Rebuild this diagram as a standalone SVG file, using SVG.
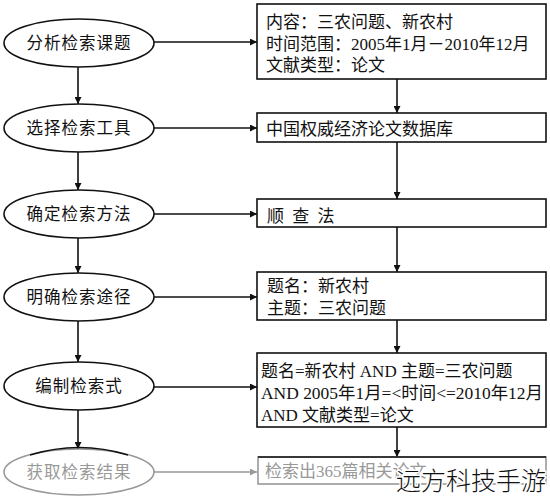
<svg xmlns="http://www.w3.org/2000/svg" width="550" height="500" viewBox="0 0 550 500">
<style>
  .node ellipse, .node rect { fill: #fff; stroke: #111; stroke-width: 1.6; }
  .gray ellipse, .gray rect { stroke: #999; }
  text { font-family: "Liberation Serif", "Noto Sans CJK SC", serif; font-size: 17px; fill: #111; }
  .el { text-anchor: middle; letter-spacing: 1px; font-family: "Noto Sans CJK SC", sans-serif; font-size: 16.5px; }
  .gray text { fill: #999; }
  .conn line { stroke: #111; stroke-width: 1.6; }
  .conn line.g { stroke: #999; }
  .wm { font-family: "Noto Sans CJK SC", sans-serif; font-size: 25px; font-weight: 300; fill: #111; stroke: #fff; stroke-width: 3; paint-order: stroke; }
</style>
<defs>
  <marker id="ah" viewBox="0 0 10 10" refX="10" refY="5" markerWidth="9" markerHeight="7" markerUnits="userSpaceOnUse" orient="auto">
    <path d="M0,0 L10,5 L0,10 z" fill="#111"/>
  </marker>
  <marker id="ahg" viewBox="0 0 10 10" refX="10" refY="5" markerWidth="9" markerHeight="7" markerUnits="userSpaceOnUse" orient="auto">
    <path d="M0,0 L10,5 L0,10 z" fill="#999"/>
  </marker>
</defs>

<g class="conn" id="connectors">
  <line x1="78" y1="67" x2="78" y2="104" marker-end="url(#ah)"/>
  <line x1="78" y1="152" x2="78" y2="190" marker-end="url(#ah)"/>
  <line x1="78" y1="238" x2="78" y2="273" marker-end="url(#ah)"/>
  <line x1="78" y1="321" x2="78" y2="362" marker-end="url(#ah)"/>
  <line x1="78" y1="410" x2="78" y2="449" marker-end="url(#ah)"/>
  <line x1="154" y1="42" x2="257" y2="42" marker-end="url(#ah)"/>
  <line x1="154" y1="128" x2="257" y2="128" marker-end="url(#ah)"/>
  <line x1="154" y1="214" x2="257" y2="214" marker-end="url(#ah)"/>
  <line x1="154" y1="297" x2="257" y2="297" marker-end="url(#ah)"/>
  <line x1="154" y1="387" x2="257" y2="387" marker-end="url(#ah)"/>
  <line class="g" x1="154" y1="472" x2="257" y2="472" marker-end="url(#ahg)"/>
  <line x1="397" y1="79" x2="397" y2="113" marker-end="url(#ah)"/>
  <line x1="397" y1="142" x2="397" y2="199" marker-end="url(#ah)"/>
  <line x1="397" y1="227" x2="397" y2="272" marker-end="url(#ah)"/>
  <line x1="397" y1="320" x2="397" y2="353" marker-end="url(#ah)"/>
  <line x1="397" y1="427" x2="397" y2="457" marker-end="url(#ah)"/>
</g>

<g class="node" id="step1"><ellipse cx="79" cy="43" rx="75" ry="24"/><text class="el" x="79" y="49">分析检索课题</text></g>
<g class="node" id="step2"><ellipse cx="79" cy="128" rx="75" ry="24"/><text class="el" x="79" y="134">选择检索工具</text></g>
<g class="node" id="step3"><ellipse cx="79" cy="214" rx="75" ry="24"/><text class="el" x="79" y="220">确定检索方法</text></g>
<g class="node" id="step4"><ellipse cx="79" cy="297" rx="75" ry="24"/><text class="el" x="79" y="303">明确检索途径</text></g>
<g class="node" id="step5"><ellipse cx="79" cy="386" rx="75" ry="24"/><text class="el" x="79" y="392">编制检索式</text></g>
<g class="node gray" id="step6"><ellipse cx="79" cy="472" rx="75" ry="23"/><path d="M30,455 Q79,440 128,455" fill="none" stroke="#111" stroke-width="1.6"/><text class="el" x="79" y="478">获取检索结果</text></g>

<g class="node" id="box1"><rect x="257" y="4" width="289" height="75"/>
  <text x="266" y="28">内容：三农问题、新农村</text>
  <text x="266" y="50">时间范围：2005年1月－2010年12月</text>
  <text x="266" y="71">文献类型：论文</text>
</g>
<g class="node" id="box2"><rect x="257" y="113" width="289" height="29"/>
  <text x="266" y="135">中国权威经济论文数据库</text>
</g>
<g class="node" id="box3"><rect x="257" y="199" width="289" height="28"/>
  <text x="267" y="222" letter-spacing="2">顺 查 法</text>
</g>
<g class="node" id="box4"><rect x="257" y="272" width="289" height="48"/>
  <text x="267" y="292">题名：新农村</text>
  <text x="267" y="314">主题：三农问题</text>
</g>
<g class="node" id="box5"><rect x="257" y="353" width="289" height="74"/>
  <text x="261" y="377">题名=新农村 AND 主题=三农问题</text>
  <text x="261" y="399" textLength="282" lengthAdjust="spacingAndGlyphs">AND 2005年1月=&lt;时间&lt;=2010年12月</text>
  <text x="261" y="421">AND 文献类型=论文</text>
</g>
<g class="node gray" id="box6"><rect x="258" y="457" width="288" height="27"/>
  <line x1="258" y1="457" x2="546" y2="457" stroke="#111" stroke-width="1.6"/>
  <text x="265" y="477">检索出365篇相关论文</text>
</g>

<text class="wm" x="396" y="490">远方科技手游</text>
</svg>
